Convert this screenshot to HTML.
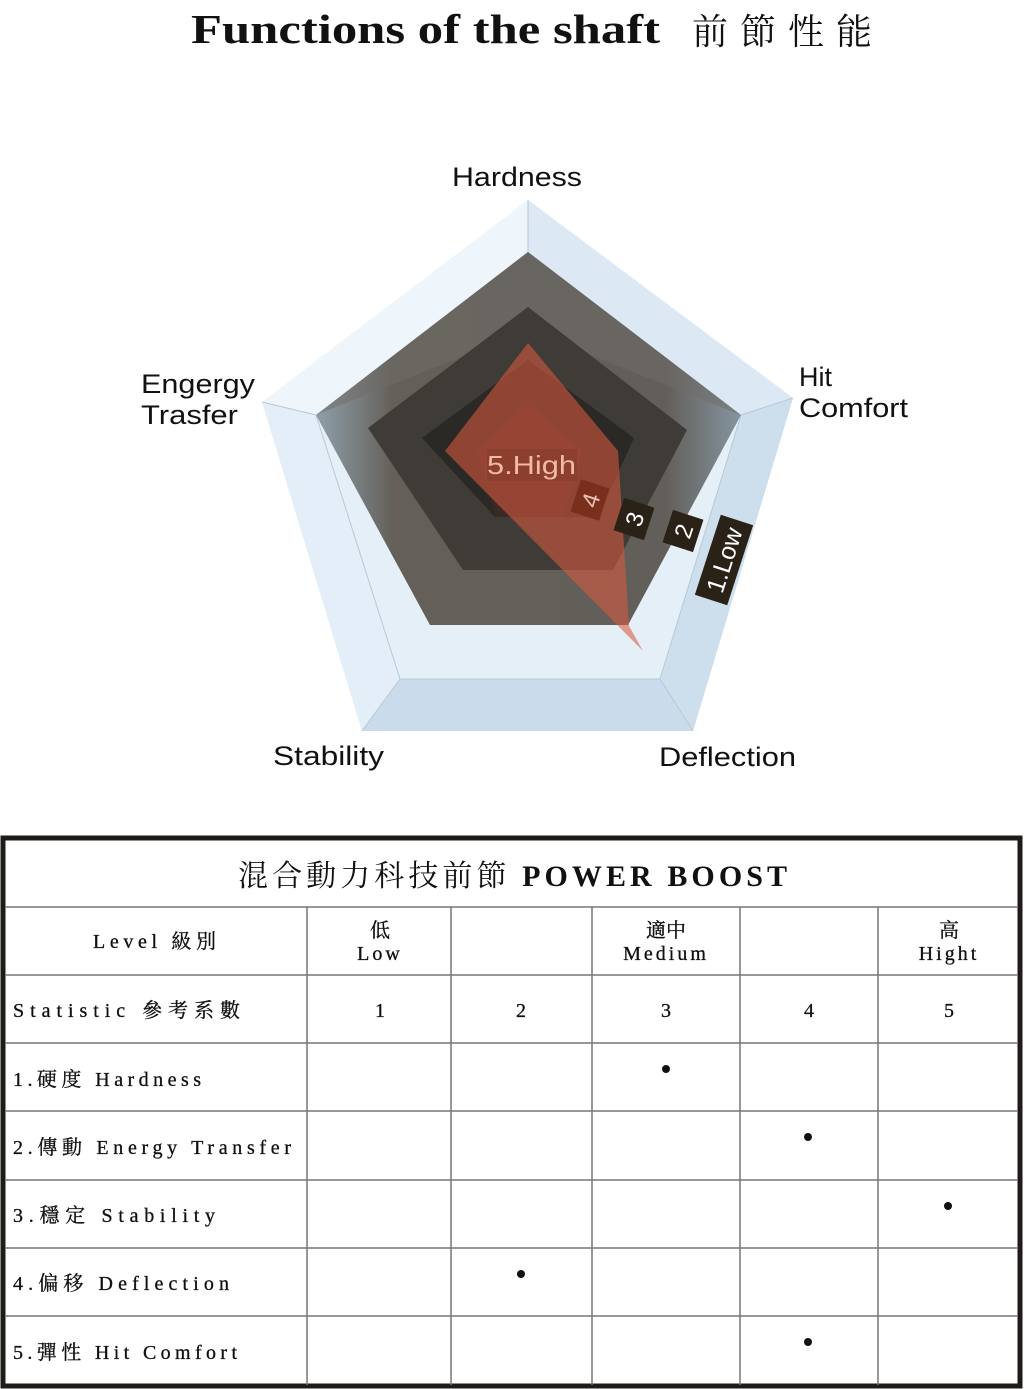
<!DOCTYPE html>
<html><head><meta charset="utf-8"><style>
html,body{margin:0;padding:0;background:#fff}
svg{display:block}
.s{font-family:"Liberation Sans",sans-serif;fill:#111}
.t{font-family:"Liberation Serif","Noto Serif CJK SC",serif;fill:#111}
</style></head><body>
<svg width="1024" height="1389" viewBox="0 0 1024 1389" xmlns="http://www.w3.org/2000/svg">
<defs>
<linearGradient id="gL" x1="0" y1="0" x2="1" y2="0">
<stop offset="0" stop-color="#8fa0ab"/><stop offset="0.18" stop-color="#646059"/><stop offset="0.82" stop-color="#625e59"/><stop offset="1" stop-color="#8595a0"/></linearGradient>
<linearGradient id="gBand" x1="0" y1="0" x2="1" y2="1">
<stop offset="0" stop-color="#f2f8fd"/><stop offset="1" stop-color="#d3e3f0"/></linearGradient>
</defs>
<text x="191" y="43" font-family="Liberation Serif,serif" font-weight="bold" font-size="41" fill="#111" textLength="469" lengthAdjust="spacingAndGlyphs">Functions of the shaft</text>
<text x="692" y="44" font-family="'Liberation Serif','Noto Serif CJK SC',serif" font-size="36" letter-spacing="12" fill="#111">前節性能</text>

<polygon points="528,200 793,398 693,731 362,731 262,402" fill="url(#gBand)"/>
<polygon points="528,200 528,252 316,415 262,402" fill="#eef5fb"/>
<polygon points="528,200 793,398 741,415 528,252" fill="#dce9f4"/>
<polygon points="793,398 693,731 660,679 741,415" fill="#cddeec"/>
<polygon points="693,731 362,731 400,679 660,679" fill="#cadcec"/>
<polygon points="362,731 262,402 316,415 400,679" fill="#e3eef8"/>
<polygon points="316,415 741,415 660,679 400,679" fill="#e4eff8"/>
<g stroke="#b8c8d6" stroke-width="1" fill="none">
<line x1="528" y1="200" x2="528" y2="252"/><line x1="793" y1="398" x2="741" y2="415"/>
<line x1="693" y1="731" x2="660" y2="679"/><line x1="362" y1="731" x2="400" y2="679"/>
<line x1="262" y1="402" x2="316" y2="415"/>
<polyline points="400,679 660,679 741,415"/><line x1="316" y1="415" x2="400" y2="679"/>
</g>
<polygon points="528,252 741,415 628,625 430,625 316,415" fill="url(#gL)"/>
<polygon points="528,252 741,415 528,330 316,415" fill="#706c67" opacity="0.5"/>
<polygon points="528,307 687,430 613,570 463,570 368,428" fill="#3f3c37"/>
<polygon points="528,360 634,438 598,517 495,517 422,438" fill="#2b2925"/>
<polygon points="528,404 582,451 564,517 496,517 477,451" fill="#3a2a24"/>
<polygon points="528,343 618,451 629,626 643,651 445,451" fill="#d9593f" fill-opacity="0.58"/>
<rect x="487" y="449" width="90" height="32" fill="#7a3222" opacity="0.3"/>
<text x="487" y="474" class="s" font-size="26" style="fill:#f2b9a4" textLength="89" lengthAdjust="spacingAndGlyphs">5.High</text>
<g transform="translate(590,500) rotate(-72)"><rect x="-17" y="-15" width="34" height="30" fill="#7a2e1c"/><text x="0" y="9" text-anchor="middle" font-family="Liberation Sans" font-size="24" fill="#e8c0b0">4</text></g>
<g transform="translate(634,519) rotate(-72)"><rect x="-17" y="-16" width="34" height="32" fill="#2a2216"/><text x="0" y="9" text-anchor="middle" font-family="Liberation Sans" font-size="24" fill="#fff">3</text></g>
<g transform="translate(683,531) rotate(-72)"><rect x="-17" y="-16" width="34" height="32" fill="#2a2216"/><text x="0" y="9" text-anchor="middle" font-family="Liberation Sans" font-size="24" fill="#fff">2</text></g>
<g transform="translate(724,560) rotate(-72)"><rect x="-42" y="-17" width="84" height="34" fill="#2a2216"/><text x="0" y="9" text-anchor="middle" font-family="Liberation Sans" font-size="25" fill="#fff">1.Low</text></g>

<g class="s" font-size="27">
<text x="452" y="186" textLength="130" lengthAdjust="spacingAndGlyphs">Hardness</text>
<text x="141" y="393" textLength="114" lengthAdjust="spacingAndGlyphs">Engergy</text>
<text x="141" y="424" textLength="97" lengthAdjust="spacingAndGlyphs">Trasfer</text>
<text x="799" y="386">Hit</text>
<text x="799" y="417" textLength="109" lengthAdjust="spacingAndGlyphs">Comfort</text>
<text x="273" y="765" textLength="111" lengthAdjust="spacingAndGlyphs">Stability</text>
<text x="659" y="766" textLength="137" lengthAdjust="spacingAndGlyphs">Deflection</text>
</g>

<rect x="3" y="838" width="1017" height="548" fill="#fff" stroke="#1e1b18" stroke-width="5"/>
<g stroke="#777" stroke-width="1.5">
<line x1="5" y1="907" x2="1018" y2="907"/><line x1="5" y1="975" x2="1018" y2="975"/>
<line x1="5" y1="1043" x2="1018" y2="1043"/><line x1="5" y1="1111" x2="1018" y2="1111"/>
<line x1="5" y1="1180" x2="1018" y2="1180"/><line x1="5" y1="1248" x2="1018" y2="1248"/>
<line x1="5" y1="1316" x2="1018" y2="1316"/>
<line x1="307" y1="907" x2="307" y2="1385"/><line x1="451" y1="907" x2="451" y2="1385"/>
<line x1="592" y1="907" x2="592" y2="1385"/><line x1="740" y1="907" x2="740" y2="1385"/>
<line x1="878" y1="907" x2="878" y2="1385"/>
</g>
<text x="238" y="886" class="t" font-size="30" textLength="549" lengthAdjust="spacing">混合動力科技前節 <tspan font-weight="bold">POWER BOOST</tspan></text>
<g class="t" font-size="20" stroke="#111" stroke-width="0.3">
<text x="93" y="948" textLength="123" lengthAdjust="spacing">Level 級別</text>
<text x="380" y="937" text-anchor="middle">低</text><text x="380" y="960" text-anchor="middle" letter-spacing="3">Low</text>
<text x="666" y="937" text-anchor="middle">適中</text><text x="666" y="960" text-anchor="middle" letter-spacing="3">Medium</text>
<text x="949" y="937" text-anchor="middle">高</text><text x="949" y="960" text-anchor="middle" letter-spacing="3">Hight</text>
<text x="13" y="1017" textLength="227" lengthAdjust="spacing">Statistic 參考系數</text>
<text x="380" y="1017" text-anchor="middle">1</text><text x="521" y="1017" text-anchor="middle">2</text>
<text x="666" y="1017" text-anchor="middle">3</text><text x="809" y="1017" text-anchor="middle">4</text>
<text x="949" y="1017" text-anchor="middle">5</text>
<text x="13" y="1086" textLength="188" lengthAdjust="spacing">1.硬度 Hardness</text>
<text x="13" y="1154" textLength="278" lengthAdjust="spacing">2.傳動 Energy Transfer</text>
<text x="13" y="1222" textLength="202" lengthAdjust="spacing">3.穩定 Stability</text>
<text x="13" y="1290" textLength="216" lengthAdjust="spacing">4.偏移 Deflection</text>
<text x="13" y="1359" textLength="224" lengthAdjust="spacing">5.彈性 Hit Comfort</text>
</g>
<g fill="#111">
<circle cx="666" cy="1069" r="4"/><circle cx="808" cy="1137" r="4"/>
<circle cx="948" cy="1206" r="4"/><circle cx="521" cy="1274" r="4"/>
<circle cx="808" cy="1342" r="4"/>
</g>
</svg>
</body></html>
